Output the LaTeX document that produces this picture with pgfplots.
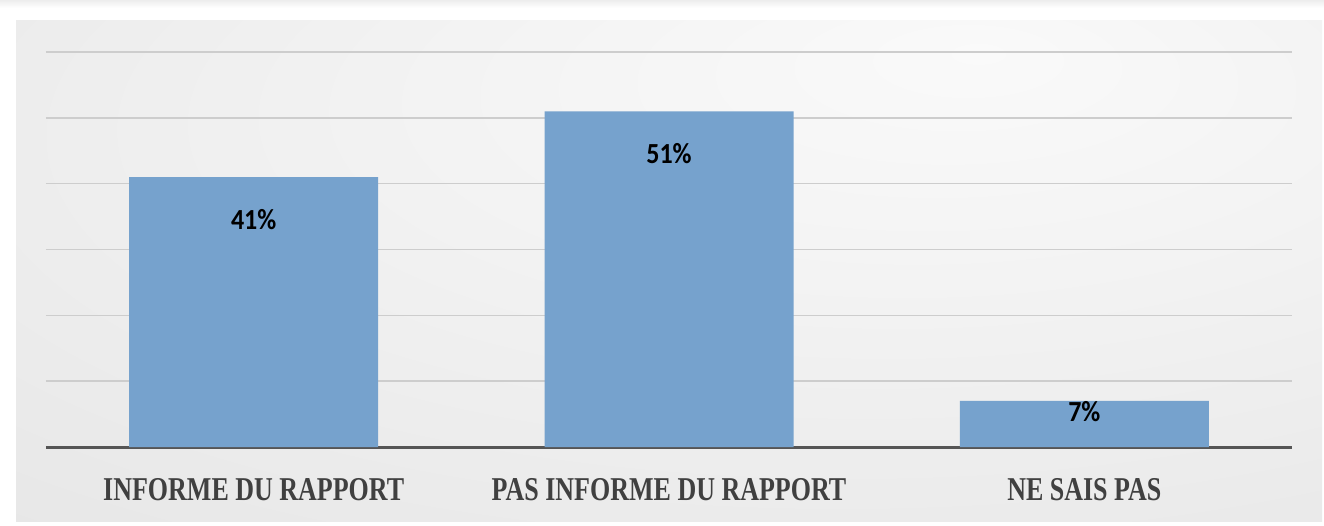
\documentclass[border=0pt]{standalone}
\usepackage{pgfplots}
\pgfplotsset{compat=1.18}
\usepackage{pgfplotstable}
\usepackage{graphicx}
\usepackage{fontspec}
\setmainfont{Liberation Serif}
\newfontfamily\carlito{Carlito}
\definecolor{barblue}{RGB}{118,162,205}
\definecolor{gridgray}{RGB}{205,205,205}
\definecolor{axisgray}{RGB}{85,85,85}
\definecolor{labgray}{RGB}{64,64,64}
\pgfdeclareradialshading{fond}{\pgfpoint{12bp}{22bp}}{%
  color(0bp)=(white!98!black); color(20bp)=(white!95!black);
  color(50bp)=(white!90!black); color(80bp)=(white!84!black)}

% x, valeur (%), decalage de l'etiquette sous le haut de la barre (pt)
\pgfplotstableread{
x y off
0 41 42
1 51 42
2 7 11
}\datatable

\newcommand{\cat}[1]{\scalebox{1}[1.28]{\fontsize{26}{30}\selectfont\bfseries #1}}

\begin{document}
\begin{tikzpicture}[x=1pt,y=1pt]
% cadre et fond degrade
\fill[white] (0,0) rectangle (1324,525);
\shade[top color=gray!14, bottom color=white] (0,517) rectangle (1324,525);
\shade[shading=fond] (16,4) rectangle (1322,504);
\begin{axis}[
    at={(46pt,78pt)}, anchor=south west,
    width=1246pt, height=395pt, scale only axis,
    xmin=-0.5, xmax=2.5, ymin=0, ymax=60,
    ybar, bar width=249pt,
    axis line style={draw=none},
    major tick length=0pt,
    ytick={10,20,...,60}, yticklabels={},
    ymajorgrids, grid style={draw=gridgray, line width=1.6pt},
    extra y ticks={0}, extra y tick labels={},
    extra y tick style={grid style={draw=axisgray, line width=3pt}},
    xtick={0,1,2},
    xticklabels={\cat{INFORME DU RAPPORT},\cat{PAS INFORME DU RAPPORT},\cat{NE SAIS PAS}},
    xticklabel style={anchor=base, yshift=-53pt, text=labgray},
    /pgf/number format/assume math mode=true,
]
\addplot[fill=barblue, draw=none,
    point meta=y,
    visualization depends on={\thisrow{off} \as \off},
    nodes near coords={\scalebox{1}[1.12]{\carlito\fontsize{26}{30}\selectfont\bfseries\pgfmathprintnumber{\pgfplotspointmeta}\%}},
    nodes near coords style={anchor=center, yshift=-\off pt, text=black},
] table[x=x, y=y] {\datatable};
\end{axis}
\end{tikzpicture}
\end{document}
